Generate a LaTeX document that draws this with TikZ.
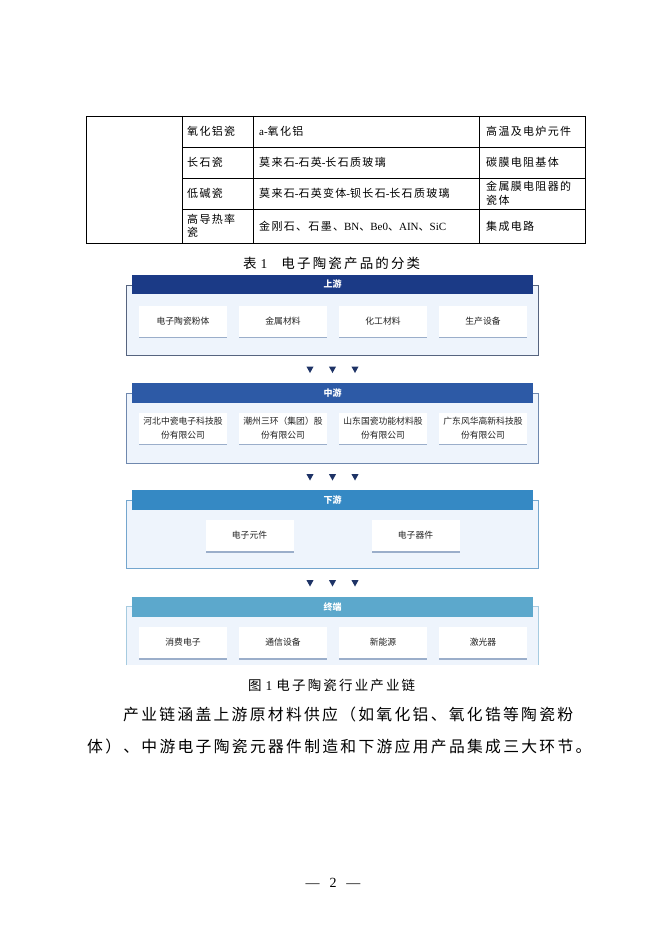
\documentclass[tikz,border=0pt]{standalone}
\usepackage{fontspec}
\setmainfont{Liberation Serif}
\newfontfamily\cjk{Noto Sans CJK SC}
\newfontfamily\cjkt{Noto Sans CJK SC}[LetterSpace=12]
\newfontfamily\cjkc{Noto Sans CJK SC}[LetterSpace=16]
\newfontfamily\cjkbody{Noto Sans CJK SC}[LetterSpace=14.5]
\newcommand\zh[1]{{\cjkt #1}}
\usetikzlibrary{shadows}
\definecolor{hdra}{HTML}{1B3A86}
\definecolor{hdrb}{HTML}{2D5AA6}
\definecolor{hdrc}{HTML}{3589C4}
\definecolor{hdrd}{HTML}{5CA8CC}
\definecolor{bda}{HTML}{56647F}
\definecolor{bdb}{HTML}{6F88AE}
\definecolor{bdc}{HTML}{74A6CE}
\definecolor{bdd}{HTML}{A6CBE0}
\definecolor{panelfill}{HTML}{EEF4FC}
\definecolor{tricol}{HTML}{1E3366}
\definecolor{boxtext}{HTML}{222222}
\definecolor{shadowcol}{HTML}{4A6A9A}
\tikzset{
  cell/.style={anchor=west, inner sep=0pt, font=\fontsize{11}{15}\selectfont, align=left},
  hdr/.style={minimum width=401pt, minimum height=19.5pt, inner sep=0pt, text=white,
    font=\cjk\bfseries\fontsize{9}{9}\selectfont},
  stagebox/.style={fill=white, minimum width=88pt, minimum height=31pt, inner sep=0pt,
    align=center, text=boxtext, font=\cjk\fontsize{8.8}{13.5}\selectfont,
    drop shadow={opacity=0.5, shadow xshift=0pt, shadow yshift=-1.5pt, fill=shadowcol}},
  tri/.style={fill=tricol},
}
\begin{document}
\begin{tikzpicture}[x=1pt,y=-1pt]
\useasboundingbox (0,0) rectangle (662,936);
\fill[white] (0,0) rectangle (662,936);
% ---------- table ----------
\draw[line width=0.6pt] (86,116) rectangle (585,243);
\draw[line width=0.6pt] (182,116) -- (182,243);
\draw[line width=0.6pt] (253,116) -- (253,243);
\draw[line width=0.6pt] (479,116) -- (479,243);
\foreach \yy in {147,178,209} \draw[line width=0.6pt] (182,\yy) -- (585,\yy);
\node[cell] (t11) at (187,131.5) {\zh{氧化铝瓷}};
\node[cell] (t12) at (259,131.5) {a-\zh{氧化铝}};
\node[cell] (t13) at (486,131.5) {\zh{高温及电炉元件}};
\node[cell] (t21) at (187,162.5) {\zh{长石瓷}};
\node[cell] (t22) at (259,162.5) {\zh{莫来石}-\zh{石英}-\zh{长石质玻璃}};
\node[cell] (t23) at (486,162.5) {\zh{碳膜电阻基体}};
\node[cell] (t31) at (187,193.5) {\zh{低碱瓷}};
\node[cell] (t32) at (259,193.5) {\zh{莫来石}-\zh{石英变体}-\zh{钡长石}-\zh{长石质玻璃}};
\node[cell] (t33) at (486,193.5) {\zh{金属膜电阻器的}\\[-1.5pt]\zh{瓷体}};
\node[cell] (t41) at (187,226) {\zh{高导热率}\\[-1.5pt]\zh{瓷}};
\node[cell] (t42) at (259,226) {\zh{金刚石、石墨、}BN\zh{、}Be0\zh{、}AIN\zh{、}SiC};
\node[cell] (t43) at (486,226) {\zh{集成电路}};
\node[anchor=west, inner sep=0pt, font=\fontsize{13.5}{13.5}\selectfont] (cap1) at (243,263)
  {{\cjkc 表}\hspace{4pt}1\hspace{14pt}{\cjkc 电子陶瓷产品的分类}};
% ---------- panel 1 ----------
\fill[panelfill] (126,285) rectangle (538,355);
\draw[bda, line width=0.7pt] (126,285) rectangle (538,355);
\node[hdr, fill=hdra] (h1) at (332.5,284.5) {上游};
\node[stagebox] (u1) at (183,321) {电子陶瓷粉体};
\node[stagebox] (u2) at (283,321) {金属材料};
\node[stagebox] (u3) at (383,321) {化工材料};
\node[stagebox] (u4) at (483,321) {生产设备};
% arrows 1
\foreach \xx in {310,332.5,355} \fill[tri] (\xx-3.6,366.5) -- (\xx+3.6,366.5) -- (\xx,373) -- cycle;
% ---------- panel 2 ----------
\fill[panelfill] (126,393) rectangle (538,463);
\draw[bdb, line width=0.7pt] (126,393) rectangle (538,463);
\node[hdr, fill=hdrb] (h2) at (332.5,393) {中游};
\node[stagebox] (m1) at (183,428) {河北中瓷电子科技股\\份有限公司};
\node[stagebox] (m2) at (283,428) {潮州三环（集团）股\\份有限公司};
\node[stagebox] (m3) at (383,428) {山东国瓷功能材料股\\份有限公司};
\node[stagebox] (m4) at (483,428) {广东风华高新科技股\\份有限公司};
% arrows 2
\foreach \xx in {310,332.5,355} \fill[tri] (\xx-3.6,474) -- (\xx+3.6,474) -- (\xx,480.5) -- cycle;
% ---------- panel 3 ----------
\fill[panelfill] (126,500) rectangle (538,568);
\draw[bdc, line width=0.7pt] (126,500) rectangle (538,568);
\node[hdr, fill=hdrc] (h3) at (332.5,500) {下游};
\node[stagebox] (d1) at (249.5,535.5) {电子元件};
\node[stagebox] (d2) at (415.5,535.5) {电子器件};
% arrows 3
\foreach \xx in {310,332.5,355} \fill[tri] (\xx-3.6,580) -- (\xx+3.6,580) -- (\xx,586.5) -- cycle;
% ---------- panel 4 ----------
\fill[panelfill] (126,606) rectangle (538,665);
\draw[bdd, line width=0.7pt] (126,665) -- (126,606) -- (538,606) -- (538,665);
\node[hdr, fill=hdrd] (h4) at (332.5,607) {终端};
\node[stagebox] (e1) at (183,642.5) {消费电子};
\node[stagebox] (e2) at (283,642.5) {通信设备};
\node[stagebox] (e3) at (383,642.5) {新能源};
\node[stagebox] (e4) at (483,642.5) {激光器};
% ---------- captions & body ----------
\node[anchor=west, inner sep=0pt, font=\fontsize{13.5}{13.5}\selectfont] (cap2) at (248,685)
  {{\cjkc 图}\hspace{4pt}1\hspace{4pt}{\cjkc 电子陶瓷行业产业链}};
\node[anchor=west, inner sep=0pt, font=\cjkbody\fontsize{15.8}{16}\selectfont] (body1) at (123,714)
  {产业链涵盖上游原材料供应（如氧化铝、氧化锆等陶瓷粉};
\node[anchor=west, inner sep=0pt, font=\cjkbody\fontsize{15.8}{16}\selectfont] (body2) at (87,746)
  {体）、中游电子陶瓷元器件制造和下游应用产品集成三大环节。};
\node[inner sep=0pt, font=\fontsize{14}{14}\selectfont] (pg) at (333,883) {—\hspace{10pt}2\hspace{10pt}—};
\end{tikzpicture}
\end{document}
